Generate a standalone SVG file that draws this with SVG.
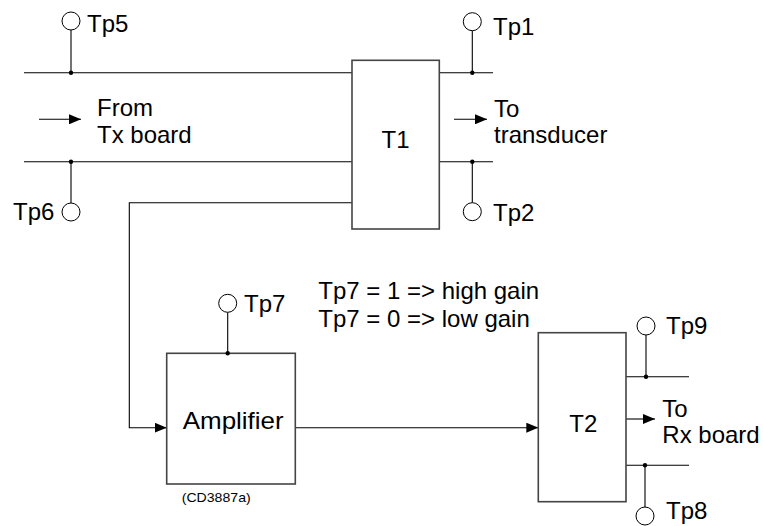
<svg xmlns="http://www.w3.org/2000/svg" width="763" height="526" viewBox="0 0 763 526">
<defs>
<style>
text{font-family:"Liberation Sans",Arial,sans-serif;font-size:24px;fill:#000}
.small{font-size:13px}
.box{fill:#fff;stroke:#444;stroke-width:1.6}
.ln{fill:none;stroke:#000;stroke-width:1.1}
.tp{fill:#fff;stroke:#000;stroke-width:1}
.dot{fill:#000}
</style>
<marker id="ah" viewBox="0 0 12 10" refX="12" refY="5" markerWidth="12" markerHeight="10" markerUnits="userSpaceOnUse" orient="auto">
<path d="M0,0 L12,5 L0,10 Z" fill="#000"/>
</marker>
</defs>
<rect width="763" height="526" fill="#fff"/>
<g id="connectors">
<line class="ln" x1="24" y1="72.7" x2="352" y2="72.7"/>
<line class="ln" x1="24" y1="161.7" x2="352" y2="161.7"/>
<line class="ln" x1="439" y1="72.7" x2="493" y2="72.7"/>
<line class="ln" x1="439" y1="161.7" x2="493" y2="161.7"/>
<line class="ln" x1="39" y1="119.3" x2="81" y2="119.3" marker-end="url(#ah)"/>
<line class="ln" x1="454" y1="119.3" x2="487" y2="119.3" marker-end="url(#ah)"/>
<polyline class="ln" points="352,202.7 129.3,202.7 129.3,427.7 166.7,427.7" marker-end="url(#ah)"/>
<line class="ln" x1="295.3" y1="427.7" x2="538.3" y2="427.7" marker-end="url(#ah)"/>
<line class="ln" x1="626" y1="376.7" x2="689" y2="376.7"/>
<line class="ln" x1="626" y1="465.3" x2="689" y2="465.3"/>
<line class="ln" x1="626" y1="419" x2="655" y2="419" marker-end="url(#ah)"/>
</g>
<g id="tp5">
<line class="ln" x1="71" y1="30" x2="71" y2="72.7"/>
<circle class="tp" cx="71" cy="21" r="9"/>
<circle class="dot" cx="71" cy="72.7" r="2.2"/>
<text x="87" y="32">Tp5</text>
</g>
<g id="tp6">
<line class="ln" x1="71" y1="161.7" x2="71" y2="203"/>
<circle class="tp" cx="71" cy="212" r="9"/>
<circle class="dot" cx="71" cy="161.7" r="2.2"/>
<text x="13" y="220">Tp6</text>
</g>
<g id="from-label">
<text x="97" y="116">From</text>
<text x="97" y="142.7">Tx board</text>
</g>
<g id="t1">
<rect class="box" x="352" y="60.3" width="87.3" height="168.7"/>
<text x="395.5" y="148.3" text-anchor="middle">T1</text>
</g>
<g id="tp1">
<line class="ln" x1="472.3" y1="30.7" x2="472.3" y2="72.7"/>
<circle class="tp" cx="472.3" cy="21.7" r="9"/>
<circle class="dot" cx="472.3" cy="72.7" r="2.2"/>
<text x="493" y="35">Tp1</text>
</g>
<g id="tp2">
<line class="ln" x1="472.3" y1="161.7" x2="472.3" y2="202.7"/>
<circle class="tp" cx="472.3" cy="211.7" r="9"/>
<circle class="dot" cx="472.3" cy="161.7" r="2.2"/>
<text x="493" y="220.7">Tp2</text>
</g>
<g id="to-label">
<text x="494" y="117.3">To</text>
<text x="494" y="143.3">transducer</text>
</g>
<g id="amplifier">
<rect class="box" x="166.7" y="353.3" width="128.6" height="130.7"/>
<text x="182.7" y="429.3" textLength="101" lengthAdjust="spacingAndGlyphs">Amplifier</text>
<text class="small" x="181.7" y="501.7" textLength="69" lengthAdjust="spacingAndGlyphs">(CD3887a)</text>
</g>
<g id="tp7">
<line class="ln" x1="227.7" y1="312.3" x2="227.7" y2="353.3"/>
<circle class="tp" cx="227.7" cy="303.3" r="9"/>
<circle class="dot" cx="227.7" cy="353.3" r="2.2"/>
<text x="244" y="311.7">Tp7</text>
</g>
<g id="gain-note">
<text x="318.3" y="299.3">Tp7 = 1 =&gt; high gain</text>
<text x="318.3" y="327.3">Tp7 = 0 =&gt; low gain</text>
</g>
<g id="t2">
<rect class="box" x="538.3" y="332.7" width="87.7" height="169"/>
<text x="583.3" y="432.3" text-anchor="middle">T2</text>
</g>
<g id="tp9">
<line class="ln" x1="646" y1="335" x2="646" y2="376.7"/>
<circle class="tp" cx="646" cy="326" r="9"/>
<circle class="dot" cx="646" cy="376.7" r="2.2"/>
<text x="666" y="334">Tp9</text>
</g>
<g id="tp8">
<line class="ln" x1="645" y1="465.3" x2="645" y2="507"/>
<circle class="tp" cx="645" cy="516" r="9"/>
<circle class="dot" cx="645" cy="465.3" r="2.2"/>
<text x="666" y="519">Tp8</text>
</g>
<g id="rx-label">
<text x="662.3" y="416.7">To</text>
<text x="662.3" y="443.3">Rx board</text>
</g>
</svg>
